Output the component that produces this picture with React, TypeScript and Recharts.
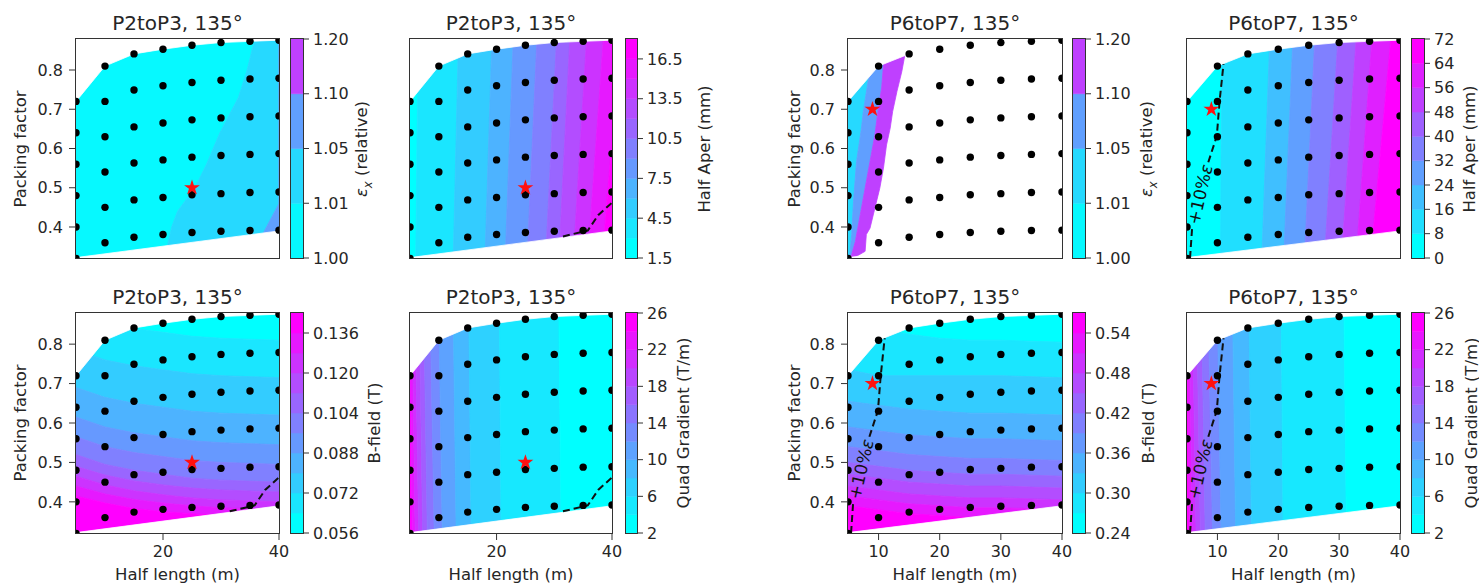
import React from "react";
import { ScatterChart, Scatter, XAxis, YAxis, BarChart, Bar } from "recharts";

type Pt = [number, number];

const X_LO = 5;
const X_HI = 40;
const Y_LO = 0.321;
const Y_HI = 0.879;
const Y_TICKS = [0.4, 0.5, 0.6, 0.7, 0.8];
const P23_XTICKS = [20, 40];
const P67_XTICKS = [10, 20, 30, 40];

// scan grid (half length columns, packing factor rows)
const HALF_LENGTH = [5, 10, 15, 20, 25, 30, 35, 40];
const PACKING = [
  [0.32, 0.4, 0.48, 0.56, 0.64, 0.72],
  [0.36, 0.45, 0.54, 0.63, 0.72, 0.81],
  [0.374, 0.469, 0.563, 0.655, 0.749, 0.841],
  [0.381, 0.475, 0.571, 0.665, 0.76, 0.853],
  [0.386, 0.482, 0.578, 0.673, 0.768, 0.863],
  [0.389, 0.485, 0.582, 0.678, 0.774, 0.87],
  [0.391, 0.488, 0.585, 0.681, 0.777, 0.873],
  [0.392, 0.489, 0.587, 0.683, 0.779, 0.876],
];

// outline of the scanned region
const HULL_TOP: Pt[] = [[5, 0.72], [10, 0.81], [15, 0.841], [20, 0.853], [25, 0.863], [30, 0.87], [35, 0.873], [40, 0.876]];
const HULL_BOTTOM: Pt[] = [[5, 0.322], [40, 0.39]];

const STAR_P23 = { x: 25, y: 0.5 };
const STAR_P67 = { x: 9, y: 0.7 };
const DASH_P23: Pt[][] = [[[31.5, 0.376], [35.8, 0.391], [37.6, 0.43], [40, 0.462]]];
const DASH_P67: Pt[][] = [
  [[5.5, 0.321], [5.85, 0.4]],
  [[8.5, 0.565], [9.9, 0.632], [10.35, 0.72], [11, 0.815]],
];
const EPS_LABEL_POS = { x: 7.15, y: 0.483 };

// level edges
const LEFT: Pt[] = [[X_LO, Y_LO], [X_LO, Y_HI]];
const RIGHT: Pt[] = [[X_HI, Y_LO], [X_HI, Y_HI]];
const TOP: Pt[] = [[X_LO, Y_HI], [X_HI, Y_HI]];
const BOTTOM: Pt[] = [[X_LO, Y_LO], [X_HI, Y_LO]];
const v = (xb: number, xt: number): Pt[] => [[xb, Y_LO], [xt, Y_HI]];

const EPS_COLORS = ["#06f9ff", "#26d9ff", "#609fff", "#bf40ff"];

const EPS_P23_BOUNDS: Pt[][] = [
  LEFT,
  [[20.5, Y_LO], [20.8, 0.355], [21.5, 0.4], [22.5, 0.44], [25.5, 0.5], [27.5, 0.56], [29.8, 0.64], [33, 0.73], [34.5, 0.8], [35.5, 0.86], [36, Y_HI]],
  [[36.8, Y_LO], [37.3, 0.385], [40, 0.46], [40, Y_HI]],
  RIGHT,
];

const EPS_P67_BOUNDS: Pt[][] = [
  LEFT,
  [[5.1, Y_LO], [5.3, 0.33], [5.6, 0.381], [5.9, 0.465], [6.4, 0.567], [7.2, 0.652], [7.5, 0.694], [8.4, 0.783], [8.9, Y_HI]],
  [[5.4, Y_LO], [5.6, 0.33], [6.2, 0.363], [7.0, 0.431], [7.8, 0.499], [8.6, 0.567], [9.4, 0.635], [9.9, 0.694], [10.5, 0.754], [10.8, 0.813], [11.2, Y_HI]],
  [[5.9, Y_LO], [7.8, 0.338], [8.0, 0.381], [8.6, 0.397], [9.4, 0.448], [10.2, 0.499], [10.8, 0.55], [11.3, 0.609], [11.9, 0.652], [12.3, 0.694], [13.0, 0.745], [13.8, 0.796], [14.3, 0.838], [14.6, Y_HI]],
];

const HA_P23_BOUNDS: Pt[][] = [
  LEFT, v(6.0, 6.4), v(12.5, 13.4), v(18.0, 19.2), v(21.5, 22.9), v(25.3, 27.0), v(28.5, 30.4),
  v(30.8, 32.7), v(33.3, 35.6), v(35.8, 38.5), [[38.3, Y_LO], [40, 0.62], [40, Y_HI]], RIGHT,
];

const HA_P67_BOUNDS: Pt[][] = [
  LEFT, v(10.5, 10.7), v(17.3, 18.6), v(20.9, 22.4), v(24.3, 26.0), v(27.6, 29.8), v(30.4, 32.8),
  v(32.8, 35.4), v(35.2, 38.5), RIGHT,
];

const QG_BOUNDS: Pt[][] = [
  LEFT, v(5.4, 5.0), v(5.9, 5.35), v(6.5, 5.9), v(7.2, 6.6), v(8.0, 7.4), v(9.2, 8.5), v(10.6, 10.0),
  v(13.0, 12.5), v(15.6, 15.2), v(20.8, 20.5), v(31.2, 30.8), RIGHT,
];

// B-field contour lines, y at these half lengths
const BF_X = [5, 10, 15, 20, 25, 30, 40];
const BF_P23_LINES = [
  [0.879, 0.855, 0.84, 0.83, 0.82, 0.815, 0.81],
  [0.785, 0.76, 0.745, 0.735, 0.725, 0.72, 0.715],
  [0.69, 0.665, 0.65, 0.64, 0.63, 0.625, 0.62],
  [0.615, 0.59, 0.575, 0.565, 0.555, 0.55, 0.545],
  [0.565, 0.54, 0.525, 0.515, 0.505, 0.5, 0.495],
  [0.52, 0.495, 0.48, 0.47, 0.46, 0.455, 0.45],
  [0.49, 0.468, 0.453, 0.443, 0.435, 0.43, 0.425],
  [0.465, 0.443, 0.428, 0.418, 0.41, 0.405, 0.4],
  [0.44, 0.42, 0.406, 0.397, 0.39, 0.385, 0.38],
  [0.415, 0.397, 0.383, 0.375, 0.37, 0.365, 0.36],
];
const BF_P67_LINES = [
  [0.879, 0.84, 0.825, 0.815, 0.81, 0.81, 0.805],
  [0.735, 0.72, 0.72, 0.72, 0.72, 0.72, 0.715],
  [0.655, 0.645, 0.635, 0.63, 0.625, 0.625, 0.62],
  [0.59, 0.58, 0.57, 0.565, 0.56, 0.56, 0.555],
  [0.54, 0.53, 0.52, 0.515, 0.51, 0.51, 0.505],
  [0.5, 0.49, 0.48, 0.475, 0.47, 0.47, 0.465],
  [0.47, 0.46, 0.45, 0.445, 0.44, 0.44, 0.435],
  [0.44, 0.43, 0.42, 0.415, 0.41, 0.41, 0.405],
  [0.415, 0.405, 0.395, 0.39, 0.385, 0.385, 0.38],
  [0.39, 0.38, 0.37, 0.365, 0.36, 0.36, 0.355],
];

// colorbar levels
const EPS_LEVELS = ["1.00", "1.01", "1.05", "1.10", "1.20"];
const HA_P23_LEVELS = ["1.5", "3.0", "4.5", "6.0", "7.5", "9.0", "10.5", "12.0", "13.5", "15.0", "16.5", "18.0"];
const HA_P67_LEVELS = ["0", "8", "16", "24", "32", "40", "48", "56", "64", "72"];
const BF_P23_LEVELS = ["0.056", "0.064", "0.072", "0.080", "0.088", "0.096", "0.104", "0.112", "0.120", "0.128", "0.136", "0.144"];
const BF_P67_LEVELS = ["0.24", "0.27", "0.30", "0.33", "0.36", "0.39", "0.42", "0.45", "0.48", "0.51", "0.54", "0.57"];
const QG_LEVELS = ["2", "4", "6", "8", "10", "12", "14", "16", "18", "20", "22", "24", "26"];

const cool = (t: number) => `rgb(${Math.round(255 * t)}, ${Math.round(255 * (1 - t))}, 255)`;
const coolBands = (n: number) => Array.from({ length: n }, (_, i) => cool(i / (n - 1)));

const hLines = (lines: number[][]): Pt[][] => [TOP, ...lines.map((ys) => ys.map((y, i) => [BF_X[i], y] as Pt)), BOTTOM];

const COLS = [
  { px: 76, pw: 203, cx: 291, cw: 12, ylab: 20, cblab: [364.5, 374] },
  { px: 410, pw: 202, cx: 626, cw: 11, ylab: 0, cblab: [703.5, 683] },
  { px: 848, pw: 214, cx: 1073, cw: 12, ylab: 794, cblab: [1150, 1148] },
  { px: 1187, pw: 213, cx: 1412, cw: 12, ylab: 0, cblab: [1469, 1471] },
];
const ROWS = [{ py: 39, ph: 219 }, { py: 313, ph: 220 }];

const EPS_NAME = (
  <span>
    <i>ε</i>
    <sub style={{ fontSize: "0.7em", fontStyle: "italic" }}>x</sub> (relative)
  </span>
);

const PANELS = [
  { row: 0, col: 0, title: "P2toP3, 135°", bounds: EPS_P23_BOUNDS, colors: EPS_COLORS, levels: EPS_LEVELS, every: 1, star: STAR_P23, dash: [], eps: false, cbName: EPS_NAME },
  { row: 0, col: 1, title: "P2toP3, 135°", bounds: HA_P23_BOUNDS, colors: coolBands(11), levels: HA_P23_LEVELS, every: 2, star: STAR_P23, dash: DASH_P23, eps: false, cbName: "Half Aper (mm)" },
  { row: 0, col: 2, title: "P6toP7, 135°", bounds: EPS_P67_BOUNDS, colors: EPS_COLORS.slice(1), cbColors: EPS_COLORS, levels: EPS_LEVELS, every: 1, star: STAR_P67, dash: [], eps: false, cbName: EPS_NAME },
  { row: 0, col: 3, title: "P6toP7, 135°", bounds: HA_P67_BOUNDS, colors: coolBands(9), levels: HA_P67_LEVELS, every: 1, star: STAR_P67, dash: DASH_P67, eps: true, cbName: "Half Aper (mm)" },
  { row: 1, col: 0, title: "P2toP3, 135°", bounds: hLines(BF_P23_LINES), colors: coolBands(11), cbColors: coolBands(11), levels: BF_P23_LEVELS, every: 2, star: STAR_P23, dash: DASH_P23, eps: false, cbName: "B-field (T)" },
  { row: 1, col: 1, title: "P2toP3, 135°", bounds: QG_BOUNDS, colors: coolBands(12).reverse(), cbColors: coolBands(12), levels: QG_LEVELS, every: 2, star: STAR_P23, dash: DASH_P23, eps: false, cbName: "Quad Gradient (T/m)" },
  { row: 1, col: 2, title: "P6toP7, 135°", bounds: hLines(BF_P67_LINES), colors: coolBands(11), cbColors: coolBands(11), levels: BF_P67_LEVELS, every: 2, star: STAR_P67, dash: DASH_P67, eps: true, cbName: "B-field (T)" },
  { row: 1, col: 3, title: "P6toP7, 135°", bounds: QG_BOUNDS, colors: coolBands(12).reverse(), cbColors: coolBands(12), levels: QG_LEVELS, every: 2, star: STAR_P67, dash: DASH_P67, eps: true, cbName: "Quad Gradient (T/m)" },
];

const TICK = { fill: "#262626", fontSize: 16 };
const FRAME = "#333";
const M = 3;
const MR = 18;
const MV = 14;

const toXY = (pts: Pt[]) => pts.map(([x, y]) => ({ x, y }));
const bandsFrom = (bounds: Pt[][]) => bounds.slice(0, -1).map((b, i) => [...b, ...[...bounds[i + 1]].reverse()]);
const SCAN = HALF_LENGTH.flatMap((x, i) => PACKING[i].map((y) => ({ x, y })));
const TOP_MASK: Pt[] = [[X_LO, Y_HI], ...HULL_TOP, [X_HI, Y_HI]];
const BOTTOM_MASK: Pt[] = [[X_LO, Y_LO], ...HULL_BOTTOM, [X_HI, Y_LO]];

const EMPTY = () => <g />;
// dots are clipped at the axes frame like in matplotlib
const makeDot = (id: string, x0: number, y0: number, w: number, h: number) => (p: any) => {
  const r = 3.7;
  const inside = p.cx - r >= x0 && p.cx + r <= x0 + w && p.cy - r >= y0 && p.cy + r <= y0 + h;
  if (inside) return <circle cx={p.cx} cy={p.cy} r={r} fill="#000" />;
  const cid = `${id}-${Math.round(p.cx)}-${Math.round(p.cy)}`;
  return (
    <g>
      <defs>
        <clipPath id={cid}>
          <rect x={x0} y={y0} width={w} height={h} />
        </clipPath>
      </defs>
      <circle cx={p.cx} cy={p.cy} r={r} fill="#000" clipPath={`url(#${cid})`} />
    </g>
  );
};
const STAR = (p: any) => {
  const R = 8.3;
  const pts = Array.from({ length: 10 }, (_, i) => {
    const a = -Math.PI / 2 + (i * Math.PI) / 5;
    const rad = i % 2 === 0 ? R : R * 0.382;
    return `${p.cx + rad * Math.cos(a)},${p.cy + rad * Math.sin(a)}`;
  }).join(" ");
  return <polygon points={pts} fill="#ff1010" />;
};
const EPS_TEXT = (p: any) => (
  <text x={p.cx} y={p.cy} transform={`rotate(-77 ${p.cx} ${p.cy})`} textAnchor="middle" dominantBaseline="central" fontSize={17} fill="#111">
    +10%<tspan fontStyle="italic">ε</tspan>
  </text>
);

function ContourPanel({ cfg, idx }: { cfg: any; idx: number }) {
  const { px, pw } = COLS[cfg.col];
  const { py, ph } = ROWS[cfg.row];
  const YW = 62;
  const XH = 40;
  const polys = bandsFrom(cfg.bounds);
  const leftCol = cfg.col === 0 || cfg.col === 2;
  const dot = makeDot("dc" + idx, M + YW, M, pw, ph);
  return (
    <>
      <div style={{ position: "absolute", left: px - YW - M, top: py - M }}>
        <ScatterChart width={M + YW + pw + MR} height={M + ph + XH + M} margin={{ top: M, right: MR, bottom: M, left: M }}>
          <XAxis type="number" dataKey="x" domain={[X_LO, X_HI]} ticks={cfg.col < 2 ? P23_XTICKS : P67_XTICKS} allowDataOverflow height={XH}
            axisLine={false} tickSize={7} tickMargin={6} tickLine={{ stroke: FRAME }} tick={cfg.row === 1 ? TICK : false} interval={0} />
          <YAxis type="number" dataKey="y" domain={[Y_LO, Y_HI]} ticks={Y_TICKS} allowDataOverflow width={YW}
            axisLine={false} tickSize={7} tickMargin={6} tickLine={{ stroke: FRAME }} tick={leftCol ? TICK : false}
            tickFormatter={(t: number) => t.toFixed(1)} interval={0} />
          {polys.map((poly, i) => (
            <Scatter key={"band" + i} data={toXY(poly)} shape={EMPTY} line={{ fill: cfg.colors[i], stroke: cfg.colors[i], strokeWidth: 0.8 }}
              lineType="joint" isAnimationActive={false} />
          ))}
          <Scatter data={toXY(TOP_MASK)} shape={EMPTY} line={{ fill: "#fff", stroke: "#fff", strokeWidth: 0.8 }} lineType="joint" isAnimationActive={false} />
          <Scatter data={toXY(BOTTOM_MASK)} shape={EMPTY} line={{ fill: "#fff", stroke: "#fff", strokeWidth: 0.8 }} lineType="joint" isAnimationActive={false} />
          {cfg.dash.map((seg: Pt[], i: number) => (
            <Scatter key={"dash" + i} data={toXY(seg)} shape={EMPTY} line={{ fill: "none", stroke: "#111", strokeWidth: 2, strokeDasharray: "7 4" }}
              lineType="joint" isAnimationActive={false} />
          ))}
          {cfg.eps && <Scatter data={[EPS_LABEL_POS]} shape={EPS_TEXT} isAnimationActive={false} />}
          <Scatter data={SCAN} shape={dot} isAnimationActive={false} />
          <Scatter data={[cfg.star]} shape={STAR} isAnimationActive={false} />
        </ScatterChart>
      </div>
      <div style={{ position: "absolute", left: px - 1, top: py - 1, width: pw + 2, height: ph + 2, border: `1px solid ${FRAME}`, boxSizing: "border-box" }} />
    </>
  );
}

function ColorBar({ cfg }: { cfg: any }) {
  const { cx, cw } = COLS[cfg.col];
  const { py, ph } = ROWS[cfg.row];
  const colors: string[] = cfg.cbColors || cfg.colors;
  const RW = 70;
  const row: any = { k: "c" };
  colors.forEach((_, i) => (row["b" + i] = 1));
  const ticks = cfg.levels.map((_: string, i: number) => i).filter((i: number) => i % cfg.every === 0);
  return (
    <>
      <div style={{ position: "absolute", left: cx - M, top: py - MV }}>
        <BarChart width={M + cw + RW + M} height={MV + ph + MV} data={[row]} margin={{ top: MV, right: M, bottom: MV, left: M }} barCategoryGap={0} barGap={0}>
          <XAxis dataKey="k" hide />
          <YAxis orientation="right" type="number" domain={[0, colors.length]} ticks={ticks} interval={0} width={RW} axisLine={false}
            tickSize={6} tickMargin={4} tickLine={{ stroke: FRAME }} tick={TICK} tickFormatter={(t: number) => cfg.levels[t]} />
          {colors.map((c, i) => (
            <Bar key={i} dataKey={"b" + i} stackId="cb" fill={c} stroke={c} strokeWidth={0.5} isAnimationActive={false} />
          ))}
        </BarChart>
      </div>
      <div style={{ position: "absolute", left: cx - 1, top: py - 1, width: cw + 2, height: ph + 2, border: `1px solid ${FRAME}`, boxSizing: "border-box" }} />
    </>
  );
}

function Rotated({ x, y, children }: { x: number; y: number; children: React.ReactNode }) {
  return (
    <div style={{ position: "absolute", left: x, top: y, transform: "translate(-50%, -50%) rotate(-90deg)", whiteSpace: "nowrap", fontSize: 16.5, lineHeight: "17px", color: "#262626" }}>
      {children}
    </div>
  );
}

export default function App() {
  return (
    <div style={{ position: "absolute", left: 0, top: 0, width: 1479, height: 585, background: "#fff", overflow: "hidden", fontFamily: "'DejaVu Sans', sans-serif" }}>
      {PANELS.map((cfg, i) => {
        const col = COLS[cfg.col];
        const rw = ROWS[cfg.row];
        const midY = rw.py + rw.ph / 2;
        return (
          <React.Fragment key={i}>
            <ContourPanel cfg={cfg} idx={i} />
            <ColorBar cfg={cfg} />
            <div style={{ position: "absolute", left: col.px, width: col.pw, top: rw.py - 26.4, textAlign: "center", fontSize: 20, lineHeight: "20px", whiteSpace: "nowrap", color: "#262626" }}>
              {cfg.title}
            </div>
            {col.ylab > 0 && <Rotated x={col.ylab} y={midY}>Packing factor</Rotated>}
            <Rotated x={col.cblab[cfg.row]} y={midY}>{cfg.cbName}</Rotated>
            {cfg.row === 1 && (
              <div style={{ position: "absolute", left: col.px, width: col.pw, top: 567, textAlign: "center", fontSize: 16.5, lineHeight: "16.5px", whiteSpace: "nowrap", color: "#262626" }}>
                Half length (m)
              </div>
            )}
          </React.Fragment>
        );
      })}
    </div>
  );
}
